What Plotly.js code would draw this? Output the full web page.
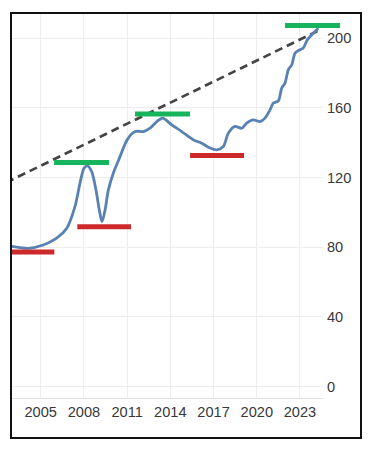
<!DOCTYPE html>
<html>
<head>
<meta charset="utf-8">
<script src="https://cdn.plot.ly/plotly-3.0.1.min.js"></script>
<style>
  html, body { margin:0; padding:0; background:#fff; width:370px; height:450px; overflow:hidden; }
  #frame { position:absolute; left:10px; top:12px; width:352px; height:427px; border:2px solid #111; box-sizing:border-box; overflow:hidden; background:#fff; }
  #chart { position:absolute; left:-18px; top:-9px; width:396px; height:433px; }
</style>
</head>
<body>
<div id="frame"><div id="chart"></div></div>
<script>
// Price series (year, value)
const years = [2002.2, 2002.7, 2003.22, 2004.14, 2005.18, 2006.11, 2006.81, 2007.38, 2007.73, 2008.01, 2008.24, 2008.54, 2008.84, 2009.07, 2009.26, 2009.47, 2009.70, 2010.04, 2010.51, 2011.0, 2011.55, 2012.13, 2012.59, 2013.06, 2013.47, 2014.10, 2014.79, 2015.60, 2016.18, 2016.76, 2017.22, 2017.68, 2018.03, 2018.49, 2018.96, 2019.30, 2019.76, 2020.23, 2020.57, 2020.92, 2021.15, 2021.50, 2021.73, 2021.96, 2022.19, 2022.43, 2022.66, 2023.00, 2023.23, 2023.51, 2023.93, 2024.27];
const values = [81.5, 81.0, 80.2, 79.4, 81.3, 85.2, 90.9, 103.3, 116.8, 125.4, 126.7, 123.4, 112.9, 101.4, 94.7, 101.4, 112.9, 122.5, 132.0, 141.6, 146.4, 146.4, 148.3, 152.1, 154.1, 150.2, 146.4, 141.6, 139.7, 136.9, 135.9, 137.8, 145.5, 149.3, 148.3, 151.2, 153.1, 152.1, 154.1, 158.8, 162.7, 164.0, 171.3, 174.2, 181.8, 184.7, 191.4, 193.3, 194.3, 199.0, 202.9, 205.7];

// Trend line endpoints
const trendYears = [2001.8, 2024.4];
const trendValues = [113.9, 204.8];

// Resistance (green) levels: [start, end, level]
const resistStart = [2005.93, 2011.55, 2021.96];
const resistEnd   = [2009.74, 2015.37, 2025.78];
const resistLevel = [128.6, 156.4, 207.3];

// Support (red) levels
const supportStart = [2002.13, 2007.54, 2015.37];
const supportEnd   = [2005.95, 2011.27, 2019.12];
const supportLevel = [77.3, 91.8, 132.7];

const xTicks = [2002, 2005, 2008, 2011, 2014, 2017, 2020, 2023];
const yTicks = [0, 40, 80, 120, 160, 200];

const traces = [];
traces.push({
  x: trendYears, y: trendValues, mode: 'lines', xaxis: 'x', yaxis: 'y',
  line: { color: '#444', width: 2.7, dash: '8px,5px' }, hoverinfo: 'skip'
});
traces.push({
  x: years, y: values, mode: 'lines', xaxis: 'x', yaxis: 'y',
  line: { color: '#5882b3', width: 2.8, shape: 'spline', smoothing: 0.8 }
});
for (let i = 0; i < resistStart.length; i++) {
  traces.push({ x: [resistStart[i], resistEnd[i]], y: [resistLevel[i], resistLevel[i]], mode: 'lines',
    xaxis: 'x2', yaxis: 'y2', line: { color: '#16b45c', width: 5 } });
}
for (let i = 0; i < supportStart.length; i++) {
  traces.push({ x: [supportStart[i], supportEnd[i]], y: [supportLevel[i], supportLevel[i]], mode: 'lines',
    xaxis: 'x2', yaxis: 'y2', line: { color: '#cc2a2a', width: 5 } });
}

const pxPerYear = 14.406;
const plotW = 356;
const mainW = 329;
const x0 = 2001.76;

const layout = {
  width: 396, height: 433,
  margin: { l: 0, r: 40, t: 0, b: 40 },
  paper_bgcolor: 'rgba(0,0,0,0)', plot_bgcolor: 'rgba(0,0,0,0)',
  showlegend: false,
  font: { family: 'Liberation Sans, Arial, sans-serif', size: 14.6, color: '#383838' },
  xaxis: {
    domain: [0, mainW / plotW], range: [x0, x0 + mainW / pxPerYear],
    tickvals: xTicks, ticktext: xTicks.map(String), showgrid: true, gridcolor: '#ededed', gridwidth: 1,
    zeroline: false, showline: true, linecolor: '#e2e2e2', linewidth: 1, ticks: '', anchor: 'y'
  },
  yaxis: {
    domain: [0, 1], range: [-6.5, 219], side: 'right', anchor: 'x',
    tickvals: yTicks, ticktext: yTicks.map(String), showgrid: true, gridcolor: '#ededed', gridwidth: 1,
    zeroline: false, showline: false, ticks: '', ticklabelstandoff: 3
  },
  xaxis2: {
    domain: [0, 1], range: [x0, x0 + plotW / pxPerYear], visible: false, anchor: 'y2'
  },
  yaxis2: {
    domain: [0, 1], range: [-6.5, 219], visible: false, anchor: 'x2'
  }
};

Plotly.newPlot('chart', traces, layout, { displayModeBar: false, staticPlot: true });
</script>
</body>
</html>
